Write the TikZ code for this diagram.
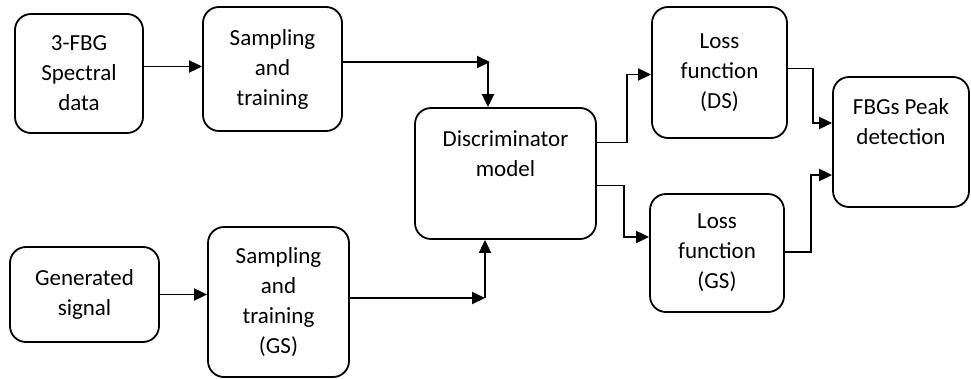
\documentclass[tikz,border=0pt]{standalone}
\usepackage{fontspec}
\setmainfont{Carlito}
\usepackage{tikz}
\usetikzlibrary{arrows.meta,positioning}
\tikzstyle{block}=[draw, line width=1.8pt, rounded corners=16pt, align=center, font=\fontsize{23}{30}\selectfont, inner sep=0pt]
\tikzstyle{connect}=[-{Triangle[length=13pt,width=12pt]}, line width=1.9pt]

\begin{document}
\begin{tikzpicture}[x=1pt, y=-1pt]
    \useasboundingbox (0,0) rectangle (971,378);

    % first row
    \node[block, minimum width=128pt, minimum height=119pt] (data) at (79,73.5) {3-FBG\\Spectral\\data};
    \node[block, minimum width=139pt, minimum height=124pt] (samp) at (272.5,69) {Sampling\\and\\training};

    % middle
    \node[block, minimum width=181pt, minimum height=131pt] (disc) at (505.5,173.5) {Discriminator\\model\\[10pt]\mbox{}};
    \node[block, minimum width=135pt, minimum height=131pt] (lossds) at (719.5,72.5) {Loss\\function\\(DS)};
    \node[block, minimum width=134pt, minimum height=118pt] (lossgs) at (717,253) {Loss\\function\\(GS)};
    \node[block, minimum width=136pt, minimum height=130pt] (peak) at (901,142) {FBGs Peak\\detection\\[10pt]\mbox{}};

    % second row
    \node[block, minimum width=149pt, minimum height=95pt] (gen) at (84.5,294.5) {Generated\\signal};
    \node[block, minimum width=141pt, minimum height=150pt] (sampgs) at (278.5,302) {Sampling\\and\\training\\(GS)};

    % joints
    \coordinate (j1) at (490,62);
    \coordinate (j2) at (485,298);

    % Connect the nodes
    \draw[connect] ([yshift=7pt]data.east) -- ([yshift=7pt]data.east -| samp.west);
    \draw[connect] ([yshift=7pt]samp.east) -- (j1);
    \draw[connect] ([xshift=-2pt]j1) -- ([xshift=-2pt]j1 |- disc.north);
    \draw[connect] (gen.east) -- (gen.east -| sampgs.west);
    \draw[connect] ([yshift=4pt]sampgs.east) -- (j2);
    \draw[connect] (j2) -- (j2 |- disc.south);
    \draw[connect] ([yshift=31pt]disc.east) -- ++(30,0) |- ([yshift=-2pt]lossds.west);
    \draw[connect] ([yshift=-12pt]disc.east) -- ++(27,0) |- ([yshift=16pt]lossgs.west);
    \draw[connect] ([yshift=4pt]lossds.east) -- ++(25,0) |- ([yshift=19pt]peak.west);
    \draw[connect] ([yshift=1pt]lossgs.east) -- ++(26,0) |- ([yshift=-33pt]peak.west);
\end{tikzpicture}
\end{document}
